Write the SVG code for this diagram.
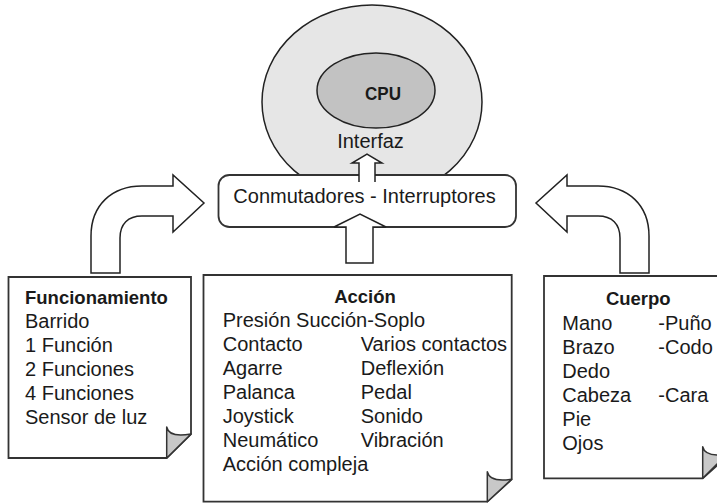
<svg xmlns="http://www.w3.org/2000/svg" width="717" height="504" viewBox="0 0 717 504">
<style>
.t{font-family:"Liberation Sans",Arial,sans-serif;font-size:20px;fill:#1a1a1a}
.b{font-family:"Liberation Sans",Arial,sans-serif;font-size:18.5px;font-weight:bold;fill:#1a1a1a}
.box{fill:#fff;stroke:#333;stroke-width:1.8}
.fold{fill:#c8c8c8;stroke:#333;stroke-width:1.5;stroke-linejoin:round}
.arr{fill:#fff;stroke:#222;stroke-width:1.5;stroke-linejoin:miter}
</style>
<rect width="717" height="504" fill="#fff"/>
<g id="interfaz">
<ellipse cx="372" cy="102" rx="110" ry="97" fill="#e6e6e6" stroke="#222" stroke-width="1.5"/>
<text class="t" x="370.5" y="148" text-anchor="middle">Interfaz</text>
</g>
<g id="cpu">
<ellipse cx="376" cy="90.5" rx="59" ry="37.5" fill="#c2c2c2" stroke="#222" stroke-width="1.5"/>
<text class="b" x="365" y="100" font-size="20" textLength="36" lengthAdjust="spacingAndGlyphs">CPU</text>
</g>
<g id="conmutadores">
<rect class="box" x="218.5" y="175" width="297.5" height="52" rx="11"/>
<text class="t" x="364.5" y="203" text-anchor="middle">Conmutadores - Interruptores</text>
</g>
<g id="funcionamiento">
<path class="box" d="M8.5 277 L191 277 L191 434 L166.7 458 L8.5 458 Z"/>
<path class="fold" d="M166.7 427 Q169 438 191 434 L166.7 458 Z"/>
<text class="b" x="25" y="304">Funcionamiento</text>
<text class="t" x="25" y="328">Barrido</text>
<text class="t" x="25" y="352">1 Función</text>
<text class="t" x="25" y="376">2 Funciones</text>
<text class="t" x="25" y="400">4 Funciones</text>
<text class="t" x="25" y="424">Sensor de luz</text>
</g>
<g id="accion">
<path class="box" d="M203.5 275 L511.7 275 L511.7 479.3 L487.3 501.7 L203.5 501.7 Z"/>
<path class="fold" d="M487.3 471.7 Q489.6 482.7 511.7 479.3 L487.3 501.7 Z"/>
<text class="b" x="365" y="302.5" text-anchor="middle">Acción</text>
<text class="t" x="222.7" y="327">Presión Succión-Soplo</text>
<text class="t" x="222.7" y="351">Contacto</text>
<text class="t" x="360.7" y="351">Varios contactos</text>
<text class="t" x="222.7" y="375">Agarre</text>
<text class="t" x="360.7" y="375">Deflexión</text>
<text class="t" x="222.7" y="399">Palanca</text>
<text class="t" x="360.7" y="399">Pedal</text>
<text class="t" x="222.7" y="423">Joystick</text>
<text class="t" x="360.7" y="423">Sonido</text>
<text class="t" x="222.7" y="447">Neumático</text>
<text class="t" x="360.7" y="447">Vibración</text>
<text class="t" x="222.7" y="471">Acción compleja</text>
</g>
<g id="cuerpo">
<path class="box" d="M544 276 L730 276 L730 454 L702.7 478.3 L544 478.3 Z"/>
<path class="fold" d="M702.7 446.7 Q705 457.7 727 454 L702.7 478.3 Z"/>
<text class="b" x="638.3" y="304.5" text-anchor="middle">Cuerpo</text>
<text class="t" x="562.3" y="330">Mano</text>
<text class="t" x="658.3" y="330">-Puño</text>
<text class="t" x="562.3" y="354">Brazo</text>
<text class="t" x="658.3" y="354">-Codo</text>
<text class="t" x="562.3" y="378">Dedo</text>
<text class="t" x="562.3" y="402">Cabeza</text>
<text class="t" x="658.3" y="402">-Cara</text>
<text class="t" x="562.3" y="426">Pie</text>
<text class="t" x="562.3" y="450">Ojos</text>
</g>
<g id="connectors">
<path class="arr" d="M359 182 L359 163 L352 163 L367 154 L382 163 L375 163 L375 182"/>
<path class="arr" d="M346 263 L346 227 L334 227 L360 214 L386 227 L373 227 L373 263 Z"/>
<path id="arrowL" class="arr" d="M91 273 L91 236 C91 205 112 186 142 186 L173 186 L173 175 L204 203 L173 232 L173 216 L142 216 C128 216 120 224 120 238 L120 273 Z"/>
<path class="arr" transform="translate(740 0) scale(-1 1)" d="M91 273 L91 236 C91 205 112 186 142 186 L173 186 L173 175 L204 203 L173 232 L173 216 L142 216 C128 216 120 224 120 238 L120 273 Z"/>
</g>
</svg>
